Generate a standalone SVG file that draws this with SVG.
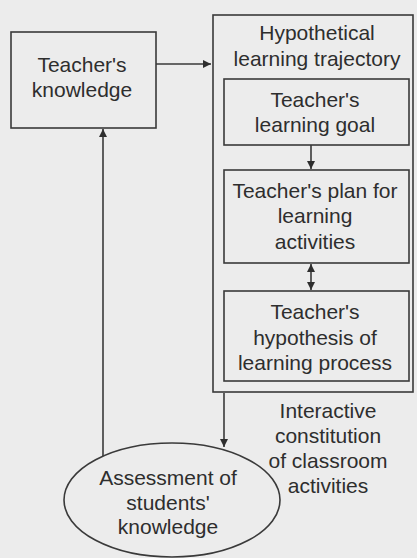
<svg xmlns="http://www.w3.org/2000/svg" width="417" height="558" viewBox="0 0 417 558">
<style>
.box{fill:none;stroke:#3a3a3a;stroke-width:1.6}
.ln{fill:none;stroke:#3a3a3a;stroke-width:1.6}
text{font-family:"Liberation Sans",Arial,sans-serif;font-size:21px;fill:#2e2e2e;text-anchor:middle}
</style>
<defs>
<marker id="ah" viewBox="0 0 10 10" refX="10" refY="5" markerWidth="5" markerHeight="5" markerUnits="strokeWidth" orient="auto-start-reverse">
<path d="M0,0 L10,5 L0,10 z" fill="#2e2e2e"/>
</marker>
</defs>
<rect width="417" height="558" fill="#ececec"/>
<g id="connectors">
<line class="ln" x1="156" y1="64" x2="211" y2="64" marker-end="url(#ah)"/>
<line class="ln" x1="311" y1="145" x2="311" y2="169" marker-end="url(#ah)"/>
<line class="ln" x1="311" y1="264" x2="311" y2="290" marker-start="url(#ah)" marker-end="url(#ah)"/>
<line class="ln" x1="224" y1="393" x2="224" y2="447" marker-end="url(#ah)"/>
<line class="ln" x1="103" y1="456" x2="103" y2="129" marker-end="url(#ah)"/>
</g>
<g id="teachers-knowledge">
<rect class="box" x="11" y="32" width="145" height="96"/>
<text x="82" y="72">Teacher's</text>
<text x="82" y="97">knowledge</text>
</g>
<g id="hlt">
<rect class="box" x="213" y="15" width="200" height="377"/>
<text x="317" y="40">Hypothetical</text>
<text x="317" y="66">learning trajectory</text>
</g>
<g id="learning-goal">
<rect class="box" x="224" y="79" width="185" height="66"/>
<text x="315" y="107">Teacher's</text>
<text x="315" y="132">learning goal</text>
</g>
<g id="plan">
<rect class="box" x="224" y="170" width="185" height="93"/>
<text x="315" y="198">Teacher's plan for</text>
<text x="315" y="223">learning</text>
<text x="315" y="249">activities</text>
</g>
<g id="hypothesis">
<rect class="box" x="224" y="291" width="185" height="90"/>
<text x="315" y="319">Teacher's</text>
<text x="315" y="345">hypothesis of</text>
<text x="315" y="370">learning process</text>
</g>
<g id="interactive-label">
<text x="328" y="418">Interactive</text>
<text x="328" y="443">constitution</text>
<text x="328" y="468">of classroom</text>
<text x="328" y="493">activities</text>
</g>
<g id="assessment">
<ellipse class="box" cx="172" cy="500" rx="108" ry="57"/>
<text x="168" y="485">Assessment of</text>
<text x="168" y="510">students'</text>
<text x="168" y="534">knowledge</text>
</g>
</svg>
